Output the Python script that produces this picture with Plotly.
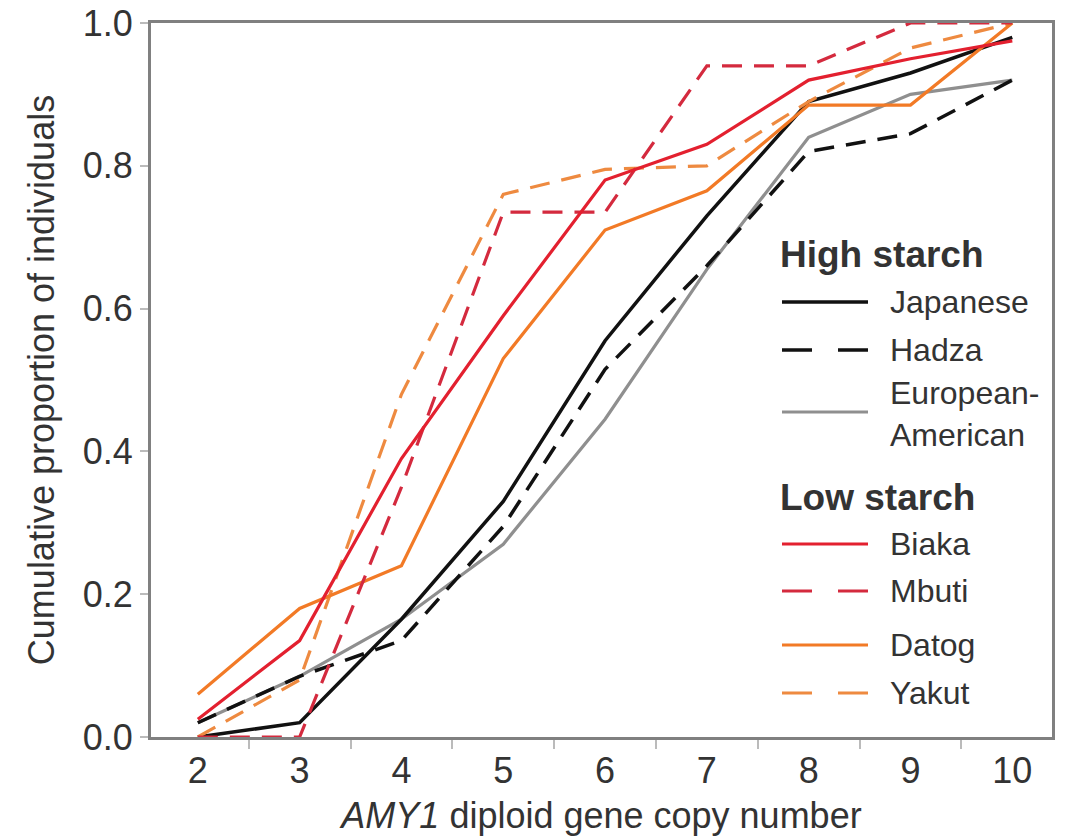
import plotly.graph_objects as go

# AMY1 diploid copy number (x) and cumulative proportion of individuals per population
copy_number = [2, 3, 4, 5, 6, 7, 8, 9, 10]
japanese = [0.00, 0.02, 0.165, 0.33, 0.555, 0.73, 0.89, 0.93, 0.98]
hadza = [0.02, 0.085, 0.135, 0.295, 0.515, 0.66, 0.82, 0.845, 0.92]
european_american = [0.02, 0.085, 0.165, 0.27, 0.445, 0.655, 0.84, 0.90, 0.92]
biaka = [0.025, 0.135, 0.39, 0.59, 0.78, 0.83, 0.92, 0.95, 0.975]
mbuti = [0.0, 0.0, 0.35, 0.735, 0.735, 0.94, 0.94, 1.0, 1.0]
datog = [0.06, 0.18, 0.24, 0.53, 0.71, 0.765, 0.885, 0.885, 1.0]
yakut = [0.0, 0.08, 0.48, 0.76, 0.795, 0.80, 0.89, 0.965, 1.0]

y_ticks = [0.0, 0.2, 0.4, 0.6, 0.8, 1.0]
y_tick_text = ["0.0", "0.2", "0.4", "0.6", "0.8", "1.0"]

FONT = "Liberation Sans, Arial, sans-serif"
TEXT = "#333333"
FRAME = "#808080"
DASH_PLOT = "20px,12px"
DASH_KEY = "30px,26px"

styles = {
    "Japanese": dict(color="#111111", width=3.5, dash="solid"),
    "Hadza": dict(color="#111111", width=3.5, dash=DASH_PLOT),
    "European-American": dict(color="#8f8f8f", width=3.2, dash="solid"),
    "Biaka": dict(color="#e3202f", width=3.2, dash="solid"),
    "Mbuti": dict(color="#d42a3e", width=3.2, dash=DASH_PLOT),
    "Datog": dict(color="#f27a26", width=3.2, dash="solid"),
    "Yakut": dict(color="#ee8a40", width=3.2, dash=DASH_PLOT),
}

series = [
    ("European-American", european_american),
    ("Hadza", hadza),
    ("Japanese", japanese),
    ("Yakut", yakut),
    ("Datog", datog),
    ("Mbuti", mbuti),
    ("Biaka", biaka),
]

fig = go.Figure()
for name, values in series:
    fig.add_trace(go.Scatter(
        x=copy_number, y=values, mode="lines", name=name,
        line=dict(**styles[name]), showlegend=False,
    ))

# Figure geometry (pixels)
W, H = 1071, 836
L, R, T, B = 151, 19, 23, 99
PW, PH = W - L - R, H - T - B


def px_x(p):
    return (p - L) / PW


def px_y(p):
    return (H - B - p) / PH


# Hand-built key: group headers and line samples
key_groups = [
    ("High starch", 255, [("Japanese", 302, 302), ("Hadza", 350, 350),
                          ("European-American", 412, 414)]),
    ("Low starch", 497, [("Biaka", 544, 544), ("Mbuti", 591, 591),
                         ("Datog", 645, 645), ("Yakut", 693, 693)]),
]
key_labels = {"European-American": "European-<br>American"}
sample_x0, sample_x1, label_x = 782, 868, 888

shapes = []
annotations = []
for header, hy, entries in key_groups:
    annotations.append(dict(
        x=px_x(sample_x0 - 4), y=px_y(hy), xref="paper", yref="paper",
        text="<b>" + header + "</b>", showarrow=False, xanchor="left",
        yanchor="middle", font=dict(family=FONT, size=37, color=TEXT),
    ))
    for name, ly, ty in entries:
        st = styles[name]
        shapes.append(dict(
            type="line", xref="paper", yref="paper",
            x0=px_x(sample_x0), x1=px_x(sample_x1), y0=px_y(ly), y1=px_y(ly),
            line=dict(color=st["color"], width=st["width"],
                      dash="solid" if st["dash"] == "solid" else DASH_KEY),
        ))
        annotations.append(dict(
            x=px_x(label_x), y=px_y(ty), xref="paper", yref="paper",
            text=key_labels.get(name, name), showarrow=False, xanchor="left",
            yanchor="middle", align="left",
            font=dict(family=FONT, size=32, color=TEXT),
        ))

fig.update_layout(
    width=W, height=H,
    margin=dict(l=L, r=R, t=T, b=B),
    paper_bgcolor="white", plot_bgcolor="white",
    font=dict(family=FONT, color=TEXT),
    shapes=shapes, annotations=annotations,
    showlegend=False,
)

fig.update_xaxes(
    range=[1.54, 10.39], automargin=False,
    tickmode="array", tickvals=copy_number,
    ticktext=[str(v) for v in copy_number],
    ticks="", tickfont=dict(family=FONT, size=36, color=TEXT),
    minor=dict(tickvals=[v + 0.5 for v in copy_number[:-1]],
               ticks="outside", ticklen=9, tickwidth=1.5, tickcolor="#bbbbbb"),
    showline=True, linecolor=FRAME, linewidth=3, mirror=True,
    showgrid=False, zeroline=False,
    title=dict(text="<i>AMY1</i> diploid gene copy number",
               font=dict(family=FONT, size=36, color=TEXT), standoff=19),
)
fig.update_yaxes(
    range=[0, 1], automargin=False,
    tickmode="array", tickvals=y_ticks, ticktext=y_tick_text,
    ticks="outside", ticklen=8, tickwidth=1.5, tickcolor="#bbbbbb",
    tickfont=dict(family=FONT, size=36, color=TEXT),
    showline=True, linecolor=FRAME, linewidth=3, mirror=True,
    showgrid=False, zeroline=False,
    title=dict(text="Cumulative proportion of individuals",
               font=dict(family=FONT, size=36, color=TEXT), standoff=18),
)

fig.write_html("out.html")
